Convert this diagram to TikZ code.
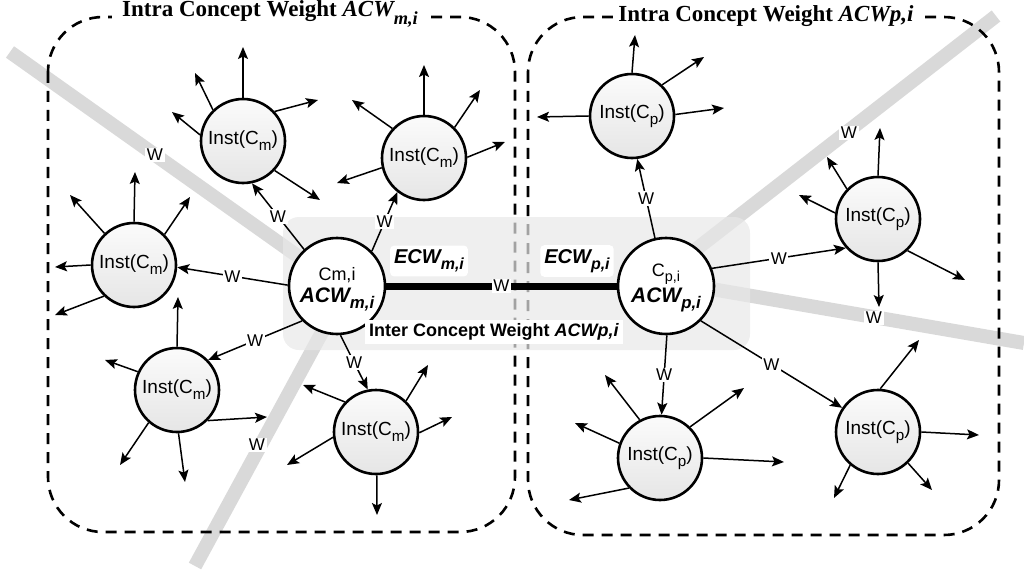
\documentclass[tikz,border=0pt]{standalone}
\usepackage{fontspec}
\setmainfont{Liberation Sans}
\newfontfamily\titleserif{Liberation Serif}
\usetikzlibrary{arrows.meta}
% lowered, slightly reduced index text
\newcommand\idx[1]{\raisebox{-0.32em}{\scalebox{0.8}{#1}}}

\begin{document}
\begin{tikzpicture}[x=1pt,y=-1pt,
  groupbox/.style={draw, dash pattern=on 11pt off 8pt, line width=2.6pt, rounded corners=55pt},
  band/.style={draw=gray!30, line width=14pt},
  concept/.style={circle, draw, line width=2.6pt, fill=white, minimum size=96pt, inner sep=0pt},
  inst/.style={circle, draw, line width=2.6pt, top color=gray!3, bottom color=gray!20,
    minimum size=84pt, inner sep=0pt, font=\fontsize{19}{22}\selectfont},
  arr/.style={-{Stealth[length=12pt,width=10pt,inset=2.5pt]}, line width=1.5pt},
  wlab/.style={fill=white, inner sep=1.5pt, font=\fontsize{17}{19}\selectfont},
  title/.style={fill=white, inner ysep=2pt, font=\titleserif\fontsize{23}{26}\selectfont\bfseries},
  ecw/.style={fill=white, rounded corners=4pt, inner sep=4pt, font=\fontsize{20}{22}\selectfont\bfseries\itshape},
  inner/.style={anchor=base, inner sep=0pt},
]
\useasboundingbox (0,0) rectangle (1024,572);

% grey separating bands
\draw[band] (10,52) -- (337,284);
\draw[band] (195,566) -- (345,290);
\draw[band] (996,16) -- (690,254);
\draw[band] (1024,343) -- (700,287);

% the two concept groups
\draw[groupbox] (48,17) rectangle (515,532);
\draw[groupbox] (528,17) rectangle (999,535);

% shaded area of the inter concept link
\fill[gray!18, fill opacity=0.7, rounded corners=16pt] (283,217) rectangle (750,350);

% weights on the bands
\node[wlab] (wb1) at (155,155) {W};
\node[wlab] (wb2) at (257,445) {W};
\node[wlab] (wb3) at (849,133) {W};
\node[wlab] (wb4) at (874,318) {W};

% group titles
\node[title, inner xsep=10pt] (tm) at (270,14) {Intra Concept Weight \textit{ACW\idx{m,i}}};
\node[title, inner xsep=5pt] (tp) at (766,16) {Intra Concept Weight \textit{ACWp,i}};

% concepts
\node[concept] (cm) at (337,286) {};
\node[concept] (cp) at (666,286) {};
\node[inner, font=\fontsize{18}{20}\selectfont] (cmname) at (337,280) {Cm,i};
\node[inner, font=\fontsize{21}{24}\selectfont\bfseries\itshape] (cmacw) at (337,302) {ACW\idx{m,i}};
\node[inner, font=\fontsize{18}{20}\selectfont] (cpname) at (666,276) {C\idx{p,i}};
\node[inner, font=\fontsize{21}{24}\selectfont\bfseries\itshape] (cpacw) at (666,302) {ACW\idx{p,i}};

% inter concept link
\draw[line width=7pt] (cm.east) -- node[wlab] (wmid) {W} (cp.west);
\node[ecw] (ecwm) at (429,261) {ECW\idx{m,i}};
\node[ecw] (ecwp) at (577,261) {ECW\idx{p,i}};
\node[fill=white, inner sep=4pt, font=\fontsize{18}{20}\selectfont\bfseries] (inter) at (494,332)
  {Inter Concept Weight \textit{ACWp,i}};

% instances of C_m
\node[inst] (i1) at (243,141) {Inst(C\idx{m})};
\node[inst] (i2) at (424,158) {Inst(C\idx{m})};
\node[inst] (i3) at (134,265) {Inst(C\idx{m})};
\node[inst] (i4) at (177,390) {Inst(C\idx{m})};
\node[inst] (i5) at (376,432) {Inst(C\idx{m})};

% instances of C_p
\node[inst] (i6) at (632,116) {Inst(C\idx{p})};
\node[inst] (i7) at (878,219) {Inst(C\idx{p})};
\node[inst] (i8) at (660,458) {Inst(C\idx{p})};
\node[inst] (i9) at (878,432) {Inst(C\idx{p})};

% weighted links concept -> instance
\draw[arr] (cm.132) -- node[wlab] {W} (i1.-78);
\draw[arr] (cm.45)  -- node[wlab] {W} (i2.-128);
\draw[arr] (cm.179) -- node[wlab] {W} (i3.-3);
\draw[arr] (cm.225) -- node[wlab] {W} (i4.44);
\draw[arr] (cm.-86) -- node[wlab] {W} (i5.101);
\draw[arr] (cp.103) -- node[wlab] {W} (i6.-83);
\draw[arr] (cp.21)  -- node[wlab] {W} (i7.222);
\draw[arr] (cp.-89) -- node[wlab] {W} (i8.88);
\draw[arr] (cp.-45) -- node[wlab] {W} (i9.146);

% outgoing links of the instances
\draw[arr] (i1.90)  -- (243,47);
\draw[arr] (i1.134) -- (195,73);
\draw[arr] (i1.172) -- (172,112);
\draw[arr] (i1.43)  -- (318,100);
\draw[arr] (i1.-43) -- (320,200);

\draw[arr] (i2.90)  -- (424,65);
\draw[arr] (i2.45)  -- (480,90);
\draw[arr] (i2.1)   -- (505,142);
\draw[arr] (i2.137) -- (352,100);
\draw[arr] (i2.193) -- (337,183);

\draw[arr] (i3.90)  -- (135,172);
\draw[arr] (i3.133) -- (70,195);
\draw[arr] (i3.45)  -- (190,197);
\draw[arr] (i3.180) -- (55,267);
\draw[arr] (i3.226) -- (55,315);

\draw[arr] (i4.90)  -- (178,297);
\draw[arr] (i4.155) -- (105,360);
\draw[arr] (i4.-45) -- (267,417);
\draw[arr] (i4.229) -- (120,465);
\draw[arr] (i4.-88) -- (185,482);

\draw[arr] (i5.136) -- (303,385);
\draw[arr] (i5.46)  -- (428,365);
\draw[arr] (i5.-1)  -- (452,417);
\draw[arr] (i5.187) -- (287,465);
\draw[arr] (i5.-89) -- (377,515);

\draw[arr] (i6.90)  -- (635,35);
\draw[arr] (i6.46)  -- (704,57);
\draw[arr] (i6.2)   -- (724,108);
\draw[arr] (i6.180) -- (537,117);

\draw[arr] (i7.90)  -- (880,128);
\draw[arr] (i7.136) -- (827,157);
\draw[arr] (i7.172) -- (799,195);
\draw[arr] (i7.-47) -- (965,280);
\draw[arr] (i7.-90) -- (879,307);

\draw[arr] (i8.118) -- (605,375);
\draw[arr] (i8.160) -- (575,423);
\draw[arr] (i8.46)  -- (744,388);
\draw[arr] (i8.0)   -- (784,462);
\draw[arr] (i8.224) -- (569,500);

\draw[arr] (i9.87)  -- (919,340);
\draw[arr] (i9.0)   -- (979,435);
\draw[arr] (i9.230) -- (834,498);
\draw[arr] (i9.-46) -- (932,490);
\end{tikzpicture}
\end{document}
